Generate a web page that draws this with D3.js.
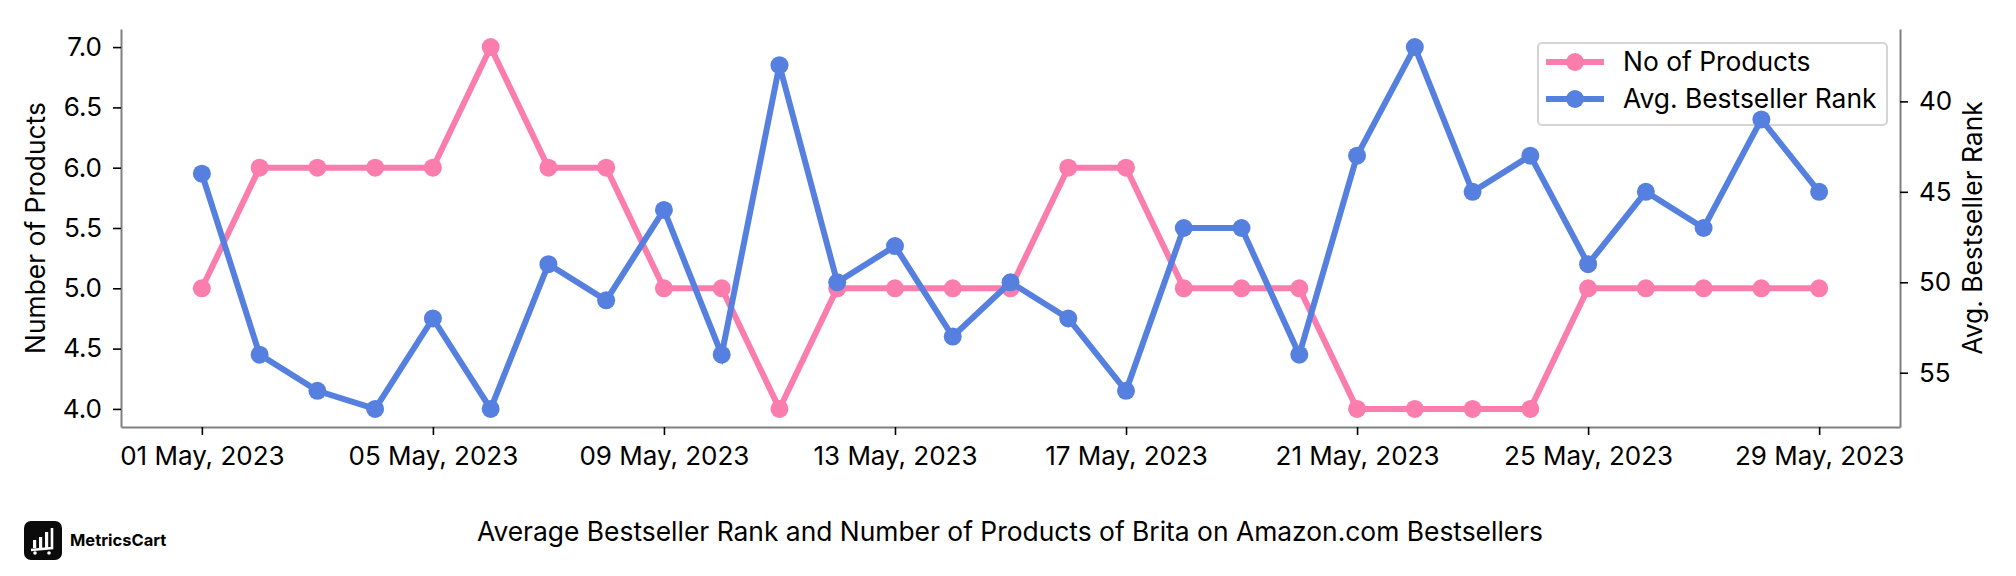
<!DOCTYPE html>
<html>
<head>
<meta charset="utf-8">
<script src="https://cdnjs.cloudflare.com/ajax/libs/d3/7.8.5/d3.min.js"></script>
<style>
  html, body { margin: 0; padding: 0; background: #fff; }
  svg { display: block; }
  text { font-family: Inter, "Noto Sans", sans-serif; fill: #000; }
  .axis path { stroke: #808080; stroke-width: 2; }
  .axis line { stroke: #000; stroke-width: 1.6; }
  .axis text { font-size: 26px; }
</style>
</head>
<body>
<script>
const days = ["2023-05-01","2023-05-02","2023-05-03","2023-05-04","2023-05-05","2023-05-06","2023-05-07","2023-05-08","2023-05-09","2023-05-10","2023-05-11","2023-05-12","2023-05-13","2023-05-14","2023-05-15","2023-05-16","2023-05-17","2023-05-18","2023-05-19","2023-05-20","2023-05-21","2023-05-22","2023-05-23","2023-05-24","2023-05-25","2023-05-26","2023-05-27","2023-05-28","2023-05-29"];
const products = [5,6,6,6,6,7,6,6,5,5,4,5,5,5,5,6,6,5,5,5,4,4,4,4,5,5,5,5,5];
const ranks = [44,54,56,57,52,57,49,51,46,54,38,50,48,53,50,52,56,47,47,54,43,37,45,43,49,45,47,41,45];
const productTicks = [4,4.5,5,5.5,6,6.5,7];
const rankTicks = [40,45,50,55];
const seriesNames = ["No of Products","Avg. Bestseller Rank"];
const colors = ["#fb7dad","#5580e0"];

const width = 2016, height = 576;
const left = 121, right = 1900, top_ = 29, bottom = 427;
const labelSize = "26.4px";

const svg = d3.select("body").append("svg").attr("width", width).attr("height", height);

const parse = d3.utcParse("%Y-%m-%d");
const dates = days.map(parse);

// matplotlib style 5% margin on every side
const pad = (dates[dates.length-1] - dates[0]) * 0.05;
const xScale = d3.scaleUtc()
  .domain([new Date(+dates[0] - pad), new Date(+dates[dates.length-1] + pad)])
  .range([left, right]);
const yScale = d3.scaleLinear().domain([3.85, 7.15]).range([bottom, top_]);
const rankScale = d3.scaleLinear().domain([36, 58]).range([top_, bottom]); // rank 1 is best, so flipped

const axisx = d3.axisBottom(xScale)
  .tickValues(dates.filter((d, i) => i % 4 === 0))
  .tickFormat(d3.utcFormat("%d %b, %Y"))
  .tickSize(8).tickSizeOuter(0).tickPadding(12);
const axisy = d3.axisLeft(yScale)
  .tickValues(productTicks).tickFormat(d3.format(".1f"))
  .tickSize(8).tickSizeOuter(0).tickPadding(11);
const axisr = d3.axisRight(rankScale)
  .tickValues(rankTicks)
  .tickSize(8).tickSizeOuter(0).tickPadding(11);

svg.append("g").attr("class", "axis").attr("transform", `translate(0,${bottom})`).call(axisx);
svg.append("g").attr("class", "axis").attr("transform", `translate(${left},0)`).call(axisy);
svg.append("g").attr("class", "axis").attr("transform", `translate(${right},0)`).call(axisr);
svg.selectAll(".axis text").attr("font-family", null);

/** legend (sits under the lines) */
const legend = svg.append("g");
legend.append("rect")
  .attr("x", 1538).attr("y", 43).attr("width", 349).attr("height", 82).attr("rx", 4)
  .attr("fill", "#fff")
  .attr("stroke", "#d5d5d5").attr("stroke-width", 2);
seriesNames.forEach((name, i) => {
  const y = 62 + i * 37;
  legend.append("line").attr("x1", 1546).attr("x2", 1604).attr("y1", y).attr("y2", y)
    .attr("stroke", colors[i]).attr("stroke-width", 6);
  legend.append("circle").attr("cx", 1575).attr("cy", y).attr("r", 9).attr("fill", colors[i]);
  legend.append("text").attr("x", 1623).attr("y", y + 9).style("font-size", labelSize).text(name);
});

/** lines and markers */
function drawSeries(values, scale, color) {
  const line = d3.line().x((d, i) => xScale(dates[i])).y(d => scale(d));
  svg.append("path")
    .attr("d", line(values))
    .attr("fill", "none")
    .attr("stroke", color)
    .attr("stroke-width", 6);
  svg.append("g").selectAll("circle")
    .data(values)
    .join("circle")
    .attr("cx", (d, i) => xScale(dates[i]))
    .attr("cy", d => scale(d))
    .attr("r", 9)
    .attr("fill", color);
}
drawSeries(products, yScale, colors[0]);
drawSeries(ranks, rankScale, colors[1]);

/** axis titles */
svg.append("text")
  .attr("transform", `translate(38,${(top_ + bottom) / 2}) rotate(-90)`)
  .attr("text-anchor", "middle").attr("dominant-baseline", "middle")
  .style("font-size", labelSize).text("Number of Products");
svg.append("text")
  .attr("transform", `translate(1975,${(top_ + bottom) / 2}) rotate(-90)`)
  .attr("text-anchor", "middle").attr("dominant-baseline", "middle")
  .style("font-size", labelSize).text("Avg. Bestseller Rank");

/** footer */
svg.append("text")
  .attr("x", 1010).attr("y", 541).attr("text-anchor", "middle")
  .style("font-size", labelSize)
  .text("Average Bestseller Rank and Number of Products of Brita on Amazon.com Bestsellers");

const logo = svg.append("g").attr("transform", "translate(24,521)");
logo.append("rect").attr("width", 38).attr("height", 39).attr("rx", 7).attr("fill", "#0b0b0b");
[[9,19,8],[15,16,11],[21,11,16]].forEach(b => {
  logo.append("rect").attr("x", b[0]).attr("y", b[1]).attr("width", 3.2).attr("height", b[2]).attr("fill", "#fff");
});
logo.append("path").attr("d", "M28 7 L28 27 L7 29").attr("fill", "none").attr("stroke", "#fff").attr("stroke-width", 2.6);
logo.append("circle").attr("cx", 11).attr("cy", 32).attr("r", 1.8).attr("fill", "#fff");
logo.append("circle").attr("cx", 25).attr("cy", 32).attr("r", 1.8).attr("fill", "#fff");
svg.append("text").attr("x", 70).attr("y", 546)
  .style("font-size", "16.5px").style("font-weight", 700).text("MetricsCart");
</script>
</body>
</html>
